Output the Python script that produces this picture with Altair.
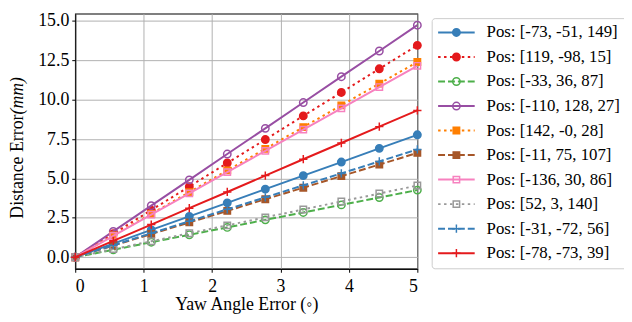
import altair as alt
import pandas as pd

FONT = "Liberation Serif"
FS = 18
LFS = 17

x_vals = [0.0, 0.556, 1.111, 1.667, 2.222, 2.778, 3.333, 3.889, 4.444, 5.0]

labels = [
    "Pos: [-73, -51, 149]",
    "Pos: [119, -98, 15]",
    "Pos: [-33, 36, 87]",
    "Pos: [-110, 128, 27]",
    "Pos: [142, -0, 28]",
    "Pos: [-11, 75, 107]",
    "Pos: [-136, 30, 86]",
    "Pos: [52, 3, 140]",
    "Pos: [-31, -72, 56]",
    "Pos: [-78, -73, 39]",
]

s1 = [0, 0.86, 1.73, 2.59, 3.45, 4.32, 5.18, 6.04, 6.91, 7.77]
s2 = [0, 1.49, 2.99, 4.48, 5.98, 7.47, 8.97, 10.46, 11.96, 13.45]
s3 = [0, 0.47, 0.95, 1.42, 1.89, 2.37, 2.84, 3.32, 3.79, 4.26]
s4 = [0, 1.64, 3.27, 4.91, 6.55, 8.18, 9.82, 11.46, 13.09, 14.73]
s5 = [0, 1.38, 2.75, 4.13, 5.51, 6.88, 8.26, 9.64, 11.02, 12.39]
s6 = [0, 0.74, 1.47, 2.21, 2.94, 3.68, 4.41, 5.15, 5.88, 6.62]
s7 = [0, 1.35, 2.70, 4.05, 5.40, 6.75, 8.10, 9.45, 10.80, 12.15]
s8 = [0, 0.51, 1.01, 1.52, 2.02, 2.53, 3.03, 3.54, 4.04, 4.55]
s9 = [0, 0.76, 1.52, 2.28, 3.04, 3.80, 4.56, 5.32, 6.08, 6.84]
s10 = [0, 1.04, 2.07, 3.11, 4.14, 5.18, 6.22, 7.25, 8.29, 9.32]
series = [s1, s2, s3, s4, s5, s6, s7, s8, s9, s10]

colors = ["#377eb8", "#e41a1c", "#4daf4a", "#984ea3", "#ff7f00",
          "#a65628", "#f781bf", "#999999", "#377eb8", "#e41a1c"]
line_styles = ["solid", "dotted", "dashed", "solid", "dotted",
               "dashed", "solid", "dotted", "dashed", "solid"]
markers = ["circle", "circle", "circle", "circle", "square",
           "square", "square", "square", "plus", "plus"]
marker_filled = [True, True, False, False, True, True, False, False, False, False]

DASH = {"dotted": [2.5, 3.5], "dashed": [7, 3]}
PLUS = "M-1,0L1,0M0,-1L0,1"
SHAPE = {"circle": "circle", "square": "square", "plus": PLUS}
SIZE = {"circle": 56, "square": 42, "plus": 70}

PW, PH = 346, 258

xscale = alt.Scale(domain=[0, 5], nice=False, zero=False)
yscale = alt.Scale(domain=[-0.736, 15.46], nice=False, zero=False)
xaxis = alt.Axis(values=[0, 1, 2, 3, 4, 5], format="d", title="Yaw Angle Error (◦)",
                 grid=True, titlePadding=0.5, labelPadding=5, tickSize=3.5)
yaxis = alt.Axis(values=[0, 2.5, 5, 7.5, 10, 12.5, 15], format=".1f", title=None,
                 grid=True, labelPadding=3, tickSize=3.5)

layers = []
for i, vals in enumerate(series):
    df = pd.DataFrame({"x": x_vals, "y": vals})
    lk = dict(color=colors[i], strokeWidth=2)
    if line_styles[i] in DASH:
        lk["strokeDash"] = DASH[line_styles[i]]
    line = alt.Chart(df).mark_line(**lk).encode(
        x=alt.X("x:Q", scale=xscale, axis=xaxis),
        y=alt.Y("y:Q", scale=yscale, axis=yaxis),
    )
    pk = dict(shape=SHAPE[markers[i]], size=SIZE[markers[i]], stroke=colors[i],
              strokeWidth=1.5, opacity=1)
    if marker_filled[i]:
        pk.update(filled=True, fill=colors[i])
    else:
        pk.update(filled=False)
    pts = alt.Chart(df).mark_point(**pk).encode(
        x=alt.X("x:Q", scale=xscale, axis=xaxis),
        y=alt.Y("y:Q", scale=yscale, axis=yaxis),
    )
    layers += [line, pts]

tdf = pd.DataFrame({"a": [0]})
yt1 = alt.Chart(tdf).mark_text(text="Distance Error", angle=270, align="right",
                               baseline="middle", font=FONT, fontSize=FS, color="black").encode(
    x=alt.value(-58), y=alt.value(102))
yt2 = alt.Chart(tdf).mark_text(text="(mm)", angle=270, align="left", baseline="middle",
                               font=FONT, fontSize=FS, fontStyle="italic", color="black").encode(
    x=alt.value(-58), y=alt.value(102))

main = alt.layer(*layers, yt1, yt2).properties(width=PW, height=PH)

# legend panel
LW, LH = 193, PH
lx = alt.Scale(domain=[0, LW], nice=False, zero=False)
ly = alt.Scale(domain=[-0.766, 9.637], nice=False, zero=False, reverse=True)
box = alt.Chart(tdf).mark_rect(fill="white", stroke="#cccccc", strokeWidth=1,
                               cornerRadius=3).encode(
    x=alt.value(0), x2=alt.value(LW + 6), y=alt.value(5), y2=alt.value(258))
leg_layers = [box]
for i in range(len(labels)):
    d = pd.DataFrame({"x0": [6], "x1": [43], "xm": [24.5], "idx": [i]})
    rk = dict(color=colors[i], strokeWidth=2)
    if line_styles[i] in DASH:
        rk["strokeDash"] = DASH[line_styles[i]]
    rule = alt.Chart(d).mark_rule(**rk).encode(
        x=alt.X("x0:Q", scale=lx, axis=None), x2="x1:Q",
        y=alt.Y("idx:Q", scale=ly, axis=None))
    pk = dict(shape=SHAPE[markers[i]], size=SIZE[markers[i]], stroke=colors[i],
              strokeWidth=1.5, opacity=1)
    if marker_filled[i]:
        pk.update(filled=True, fill=colors[i])
    else:
        pk.update(filled=False)
    p = alt.Chart(d).mark_point(**pk).encode(
        x=alt.X("xm:Q", scale=lx, axis=None),
        y=alt.Y("idx:Q", scale=ly, axis=None))
    leg_layers += [rule, p]
ldf = pd.DataFrame({"xt": [55] * len(labels), "idx": list(range(len(labels))), "label": labels})
ltext = alt.Chart(ldf).mark_text(align="left", baseline="middle", font=FONT, fontSize=LFS,
                                 color="black").encode(
    x=alt.X("xt:Q", scale=lx, axis=None),
    y=alt.Y("idx:Q", scale=ly, axis=None),
    text="label:N")
leg_layers.append(ltext)
legend = alt.layer(*leg_layers).properties(width=LW, height=LH,
                                            view=alt.ViewBackground(stroke=None))

chart = alt.hconcat(main, legend, spacing=6).configure_view(
    stroke="black", strokeWidth=1.2
).configure_axis(
    labelFont=FONT, titleFont=FONT, labelFontSize=FS, titleFontSize=FS,
    labelColor="black", titleColor="black", titleFontWeight="normal",
    domainColor="black", tickColor="black", tickWidth=1,
    gridColor="#b0b0b0", gridWidth=1,
).properties(background="white", padding={"left": 0, "top": 1, "right": -6, "bottom": 0})

chart.save("out.html", embed_options={"renderer": "svg", "actions": False})
